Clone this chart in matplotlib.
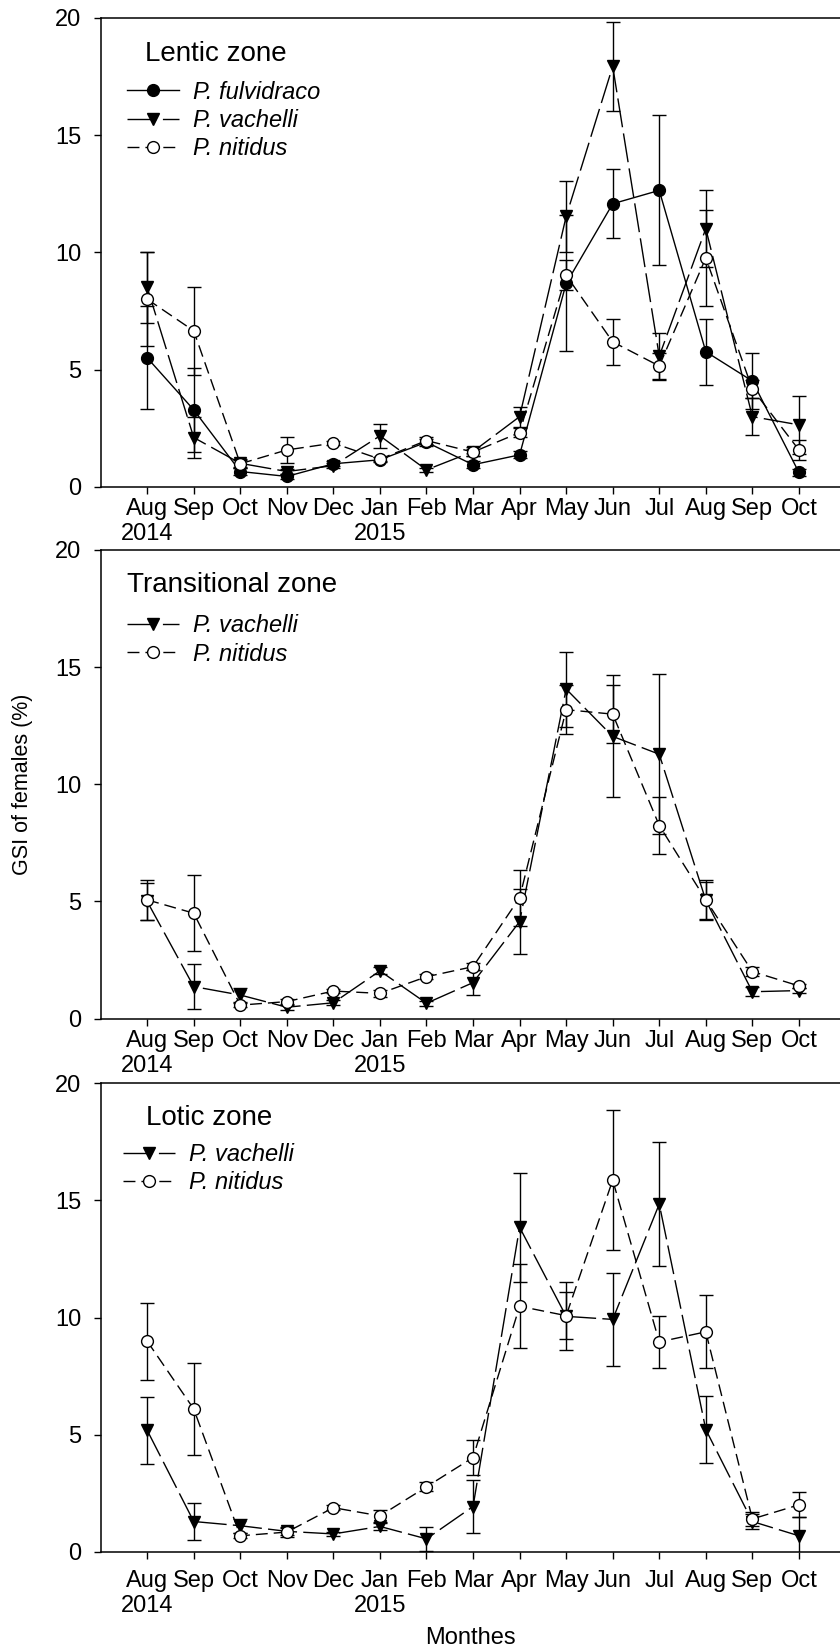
import matplotlib.pyplot as plt

plt.rcParams['font.family'] = ['Liberation Sans', 'DejaVu Sans']

# x axis: sampling months, Aug 2014 - Oct 2015
months = ['Aug\n2014', 'Sep', 'Oct', 'Nov', 'Dec', 'Jan\n2015', 'Feb', 'Mar',
          'Apr', 'May', 'Jun', 'Jul', 'Aug', 'Sep', 'Oct']
x = list(range(1, len(months) + 1))

# Lentic zone (mean GSI and SE)
lentic_fulvidraco = [5.5, 3.28, 0.65, 0.44, 0.98, 1.15, 1.9, 0.94, 1.36, 8.67, 12.07, 12.64, 5.76, 4.51, 0.61]
lentic_fulvidraco_se = [2.2, 1.8, 0.15, 0.1, 0.1, 0.1, 0.15, 0.15, 0.15, 2.9, 1.47, 3.2, 1.4, 1.2, 0.15]
lentic_vachelli = [8.5, 2.1, 1.0, 0.65, 0.9, 2.17, 0.72, 1.5, 2.99, 11.53, 17.93, 5.57, 11.01, 2.99, 2.64]
lentic_vachelli_se = [1.5, 0.88, 0.2, 0.1, 0.1, 0.5, 0.1, 0.2, 0.43, 1.5, 1.9, 1.0, 1.63, 0.78, 1.23]
lentic_nitidus = [8.0, 6.65, 0.98, 1.57, 1.86, 1.18, 1.97, 1.48, 2.31, 9.02, 6.18, 5.15, 9.76, 4.17, 1.57]
lentic_nitidus_se = [2.0, 1.87, 0.15, 0.55, 0.1, 0.1, 0.15, 0.15, 0.2, 0.64, 0.98, 0.55, 2.05, 0.4, 0.43]

# Transitional zone
trans_vachelli = [5.0, 1.37, 1.01, 0.49, 0.68, 2.04, 0.66, 1.54, 4.14, 14.06, 12.04, 11.28, 5.05, 1.15, 1.2]
trans_vachelli_se = [0.8, 0.97, 0.28, 0.1, 0.1, 0.15, 0.1, 0.53, 1.4, 1.6, 2.6, 3.42, 0.8, 0.2, 0.1]
trans_nitidus = [5.07, 4.5, 0.58, 0.73, 1.18, 1.08, 1.79, 2.22, 5.16, 13.18, 12.99, 8.24, 5.07, 2.01, 1.40]
trans_nitidus_se = [0.85, 1.63, 0.1, 0.1, 0.1, 0.15, 0.1, 0.15, 1.19, 1.05, 1.25, 1.22, 0.85, 0.2, 0.1]

# Lotic zone
lotic_vachelli = [5.19, 1.3, 1.12, 0.88, 0.77, 1.09, 0.56, 1.94, 13.85, 10.05, 9.92, 14.84, 5.22, 1.3, 0.69]
lotic_vachelli_se = [1.42, 0.8, 0.3, 0.15, 0.1, 0.15, 0.5, 1.15, 2.33, 1.45, 2.0, 2.65, 1.42, 0.3, 0.8]
lotic_nitidus = [8.99, 6.1, 0.69, 0.85, 1.89, 1.54, 2.78, 4.03, 10.48, 10.08, 15.86, 8.96, 9.39, 1.41, 2.01]
lotic_nitidus_se = [1.65, 1.98, 0.1, 0.2, 0.1, 0.27, 0.2, 0.75, 1.8, 1.0, 3.0, 1.12, 1.55, 0.3, 0.53]

# line / marker style per species
styles = {
    'P. fulvidraco': dict(marker='o', mfc='black', ls='-'),
    'P. vachelli': dict(marker='v', mfc='black', ls=(0, (21, 4.5))),
    'P. nitidus': dict(marker='o', mfc='white', ls=(0, (8.6, 4.3))),
}

zones = [
    ('Lentic zone', [('P. fulvidraco', lentic_fulvidraco, lentic_fulvidraco_se),
                     ('P. vachelli', lentic_vachelli, lentic_vachelli_se),
                     ('P. nitidus', lentic_nitidus, lentic_nitidus_se)]),
    ('Transitional zone', [('P. vachelli', trans_vachelli, trans_vachelli_se),
                           ('P. nitidus', trans_nitidus, trans_nitidus_se)]),
    ('Lotic zone', [('P. vachelli', lotic_vachelli, lotic_vachelli_se),
                    ('P. nitidus', lotic_nitidus, lotic_nitidus_se)]),
]

# panel placement (figure fraction) and title / legend anchors (axes fraction)
bottoms = [0.7050, 0.3826, 0.0594]
title_pos = [(0.0596, 0.923), (0.036, 0.925), (0.0606, 0.925)]
legend_pos = [(0.035, 0.866), (0.035, 0.862), (0.030, 0.872)]
tick_pads = [3, 3, 8]

fig = plt.figure(figsize=(8.4, 16.5), dpi=100)

for i, (zone, series) in enumerate(zones):
    ax = fig.add_axes([0.1198, bottoms[i], 0.8867, 0.2842])
    handles = []
    for name, mean, se in series:
        st = styles[name]
        c = ax.errorbar(x, mean, yerr=se, color='black', lw=1.0, ls=st['ls'],
                        marker=st['marker'], ms=8.5, mfc=st['mfc'], mec='black', mew=1.0,
                        ecolor='black', elinewidth=1.0, capsize=5.3, capthick=1.0)
        handles.append(c[0])

    ax.set_xlim(0, 16)
    ax.set_ylim(0, 20)
    ax.set_xticks(x)
    ax.set_xticklabels(months)
    ax.set_yticks([0, 5, 10, 15, 20])
    ax.tick_params(axis='x', direction='out', length=5, width=1, labelsize=17, pad=tick_pads[i])
    ax.tick_params(axis='y', direction='out', length=5, width=1, labelsize=17, pad=9)
    for sp in ax.spines.values():
        sp.set_linewidth(1.1)

    ax.text(title_pos[i][0], title_pos[i][1], zone, fontsize=20, va='center',
            transform=ax.transAxes)
    ax.legend(handles, [s[0] for s in series], loc='upper left',
              bbox_to_anchor=legend_pos[i], borderaxespad=0, borderpad=0,
              frameon=False, handlelength=2.2, handletextpad=0.6,
              labelspacing=0.22, prop={'style': 'italic', 'size': 17})

    if i == 1:
        ax.set_ylabel('GSI of females (%)', fontsize=15.5)
        ax.yaxis.set_label_coords(-0.0908, 0.5)
    if i == 2:
        ax.set_xlabel('Monthes', fontsize=17)
        ax.xaxis.set_label_coords(0.497, -0.16)

fig.savefig('out.png', dpi=100)
